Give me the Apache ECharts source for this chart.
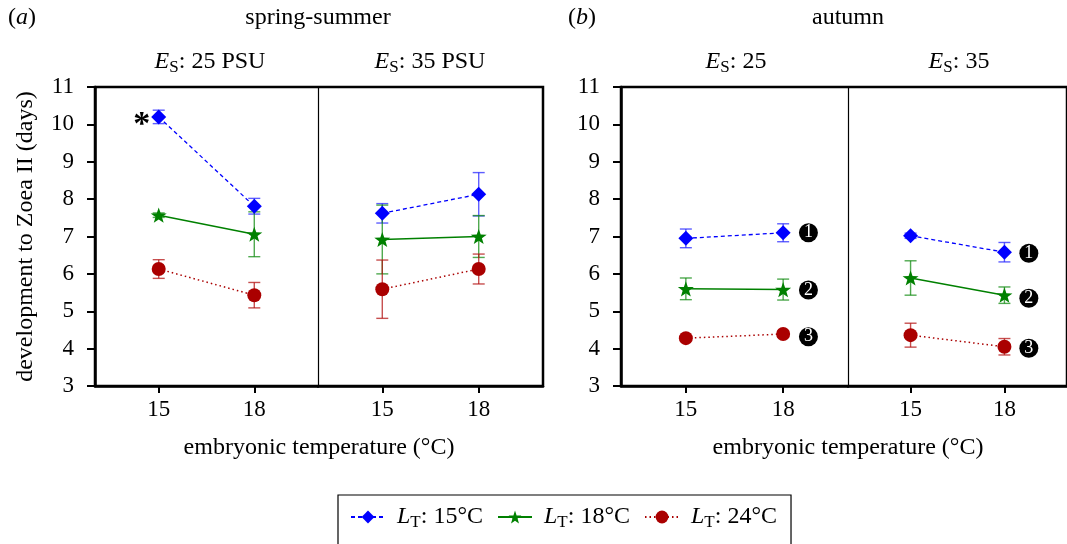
<!DOCTYPE html>
<html lang="en">
<head>
    <meta charset="UTF-8">
    <title>development to Zoea II</title>
    <script src="https://cdn.jsdelivr.net/npm/echarts@6/dist/echarts.min.js"></script>
    <style>
        html, body { margin: 0; padding: 0; background: #fff; }
    </style>
</head>
<body>
    <div id="main" style="width: 1067px;height: 544px"></div>
    <script type="text/javascript">
        // embryonic temperatures on the x axis
        var embryoTemps = [15, 18];
        // sub-panels: spring 25 PSU, spring 35 PSU, autumn 25, autumn 35
        // each row is [value at 15, value at 18]
        var lt15Mean = [[10.2, 7.81], [7.62, 8.13], [6.95, 7.10], [7.02, 6.58]];
        var lt15Err = [[0.18, 0.21], [0.26, 0.58], [0.25, 0.24], [0.07, 0.26]];
        var lt18Mean = [[7.57, 7.06], [6.92, 7.00], [5.60, 5.58], [5.89, 5.43]];
        var lt18Err = [[0.06, 0.60], [0.92, 0.56], [0.29, 0.28], [0.46, 0.22]];
        var lt24Mean = [[6.13, 5.43], [5.59, 6.13], [4.28, 4.39], [4.36, 4.05]];
        var lt24Err = [[0.25, 0.34], [0.78, 0.40], [0.05, 0.08], [0.32, 0.22]];
        // numbered markers in the autumn panels
        var noteX = 18.78;
        var noteY = [[7.10, 5.57, 4.32], [6.55, 5.35, 4.01]];
        var noteText = ['1', '2', '3'];

        var FONT = '"Liberation Serif", "DejaVu Serif", serif';
        var STAR = 'path://M0,-10L2.35,-3.24L9.51,-3.09L3.8,1.24L5.88,8.09L0,4.2L-5.88,8.09L-3.8,1.24L-9.51,-3.09L-2.35,-3.24Z';

        var groups = [
            { name: 'LT15', label: '15°C', mean: lt15Mean, err: lt15Err, color: '#0000ff', errColor: 'rgba(40,40,255,0.75)',
              symbol: 'diamond', size: [15, 15], line: { type: [4, 3], width: 1.3 } },
            { name: 'LT18', label: '18°C', mean: lt18Mean, err: lt18Err, color: '#008000', errColor: 'rgba(20,140,20,0.75)',
              symbol: STAR, size: 16, line: { type: 'solid', width: 1.5 } },
            { name: 'LT24', label: '24°C', mean: lt24Mean, err: lt24Err, color: '#aa0000', errColor: 'rgba(180,20,20,0.75)',
              symbol: 'circle', size: 14, line: { type: [1.5, 3], width: 1.5 } }
        ];

        var panels = [
            { left: 95, width: 223, main: true },
            { left: 318, width: 225, main: false },
            { left: 621, width: 227, main: true },
            { left: 848, width: 227, main: false }
        ];
        var TOP = 87, HEIGHT = 299;

        var myChart = echarts.init(document.getElementById('main'));

        var grid = [], xAxis = [], yAxis = [], series = [];
        panels.forEach(function (p, i) {
            grid.push({ left: p.left, top: TOP, width: p.width, height: HEIGHT });
            xAxis.push({
                type: 'value', gridIndex: i, min: 13, max: 20,
                axisLine: { lineStyle: { color: '#000', width: 2.5 } },
                axisTick: { customValues: embryoTemps, length: 7, lineStyle: { color: '#000', width: 2 } },
                axisLabel: { customValues: embryoTemps, color: '#000', fontFamily: FONT, fontSize: 23, margin: 12 },
                splitLine: { show: false }
            });
            yAxis.push({
                type: 'value', gridIndex: i, min: 3, max: 11, interval: 1,
                name: i === 0 ? 'development to Zoea II (days)' : '',
                nameLocation: 'middle', nameGap: 57, nameRotate: 90,
                nameTextStyle: { color: '#000', fontFamily: FONT, fontSize: 24 },
                axisLine: { show: true, lineStyle: { color: '#000', width: p.main ? 2.5 : 1.2 } },
                axisTick: { show: p.main, length: 8, lineStyle: { color: '#000', width: 2 } },
                axisLabel: { show: p.main, color: '#000', fontFamily: FONT, fontSize: 23, margin: 21 },
                splitLine: { show: false }
            });
        });
        // outer frames of panel (a) and (b)
        [[95, 448], [621, 454]].forEach(function (f, k) {
            grid.push({ show: true, left: f[0], top: TOP, width: f[1], height: HEIGHT,
                borderColor: '#000', borderWidth: 2.5, backgroundColor: 'transparent' });
            xAxis.push({ type: 'value', gridIndex: 4 + k, show: false });
            yAxis.push({ type: 'value', gridIndex: 4 + k, show: false });
        });

        function renderErr(params, api) {
            var x = api.value(0);
            var top = api.coord([x, api.value(2)]);
            var bot = api.coord([x, api.value(1)]);
            var c = api.visual('color');
            var w = 6;
            var st = { stroke: c, lineWidth: 1.4 };
            return {
                type: 'group',
                children: [
                    { type: 'line', shape: { x1: top[0], y1: top[1], x2: bot[0], y2: bot[1] }, style: st },
                    { type: 'line', shape: { x1: top[0] - w, y1: top[1], x2: top[0] + w, y2: top[1] }, style: st },
                    { type: 'line', shape: { x1: bot[0] - w, y1: bot[1], x2: bot[0] + w, y2: bot[1] }, style: st }
                ]
            };
        }

        panels.forEach(function (p, i) {
            groups.forEach(function (g) {
                series.push({
                    type: 'custom', name: 'err-' + g.name, xAxisIndex: i, yAxisIndex: i,
                    renderItem: renderErr, itemStyle: { color: g.errColor }, z: 2,
                    encode: { x: 0, y: [1, 2] },
                    data: embryoTemps.map(function (t, j) {
                        return [t, g.mean[i][j] - g.err[i][j], g.mean[i][j] + g.err[i][j]];
                    })
                });
            });
            groups.forEach(function (g) {
                var data = embryoTemps.map(function (t, j) { return [t, g.mean[i][j]]; });
                if (i === 0 && g.name === 'LT15') {
                    data[0] = { value: data[0], label: { show: true, position: 'left', distance: 1, formatter: '*',
                        fontSize: 34, fontWeight: 'bold', color: '#000', fontFamily: FONT, offset: [0, 8] } };
                }
                series.push({
                    type: 'line', name: g.name, xAxisIndex: i, yAxisIndex: i, z: 3,
                    symbol: g.symbol, symbolSize: g.size, symbolKeepAspect: true,
                    itemStyle: { color: g.color },
                    lineStyle: { color: g.color, type: g.line.type, width: g.line.width },
                    data: data
                });
            });
        });

        noteY.forEach(function (ys, k) {
            series.push({
                type: 'scatter', name: 'notes', xAxisIndex: 2 + k, yAxisIndex: 2 + k, z: 4,
                symbol: 'circle', symbolSize: 19, itemStyle: { color: '#000', opacity: 1 },
                label: { show: true, position: 'inside', color: '#fff', fontFamily: FONT, fontSize: 18,
                    formatter: function (d) { return d.value[2]; } },
                data: ys.map(function (y, j) { return [noteX, y, noteText[j]]; })
            });
        });

        var rich = {
            i: { fontFamily: FONT, fontSize: 24, fontStyle: 'italic', color: '#000' },
            s: { fontFamily: FONT, fontSize: 17, color: '#000', padding: [12, 0, 0, 0] },
            n: { fontFamily: FONT, fontSize: 24, color: '#000' }
        };
        function txt(x, y, text, align) {
            return { type: 'text', x: x, y: y, silent: true,
                style: { text: text, rich: rich, align: align || 'center', verticalAlign: 'middle',
                    fontFamily: FONT, fontSize: 24, fill: '#000' } };
        }

        var option = {
            animation: false,
            backgroundColor: '#fff',
            grid: grid,
            xAxis: xAxis,
            yAxis: yAxis,
            legend: {
                data: ['LT15', 'LT18', 'LT24'],
                left: 338, top: 495,
                padding: [10, 14, 30, 12],
                borderColor: '#000', borderWidth: 1.2,
                itemWidth: 34, itemHeight: 16, itemGap: 14,
                textStyle: { fontFamily: FONT, fontSize: 24, color: '#000', rich: rich, padding: [0, 0, 0, 7] },
                formatter: function (name) {
                    var g = groups.filter(function (x) { return x.name === name; })[0];
                    return '{i|L}{s|T}{n|: ' + g.label + '}';
                }
            },
            graphic: [
                txt(8, 18, '{n|(}{i|a}{n|)}', 'left'),
                txt(318, 18, '{n|spring-summer}'),
                txt(210, 62, '{i|E}{s|S}{n|: 25 PSU}'),
                txt(430, 62, '{i|E}{s|S}{n|: 35 PSU}'),
                txt(568, 18, '{n|(}{i|b}{n|)}', 'left'),
                txt(848, 18, '{n|autumn}'),
                txt(736, 62, '{i|E}{s|S}{n|: 25}'),
                txt(959, 62, '{i|E}{s|S}{n|: 35}'),
                txt(319, 448, '{n|embryonic temperature (°C)}'),
                txt(848, 448, '{n|embryonic temperature (°C)}')
            ],
            series: series
        };
        myChart.setOption(option);
    </script>
</body>
</html>
